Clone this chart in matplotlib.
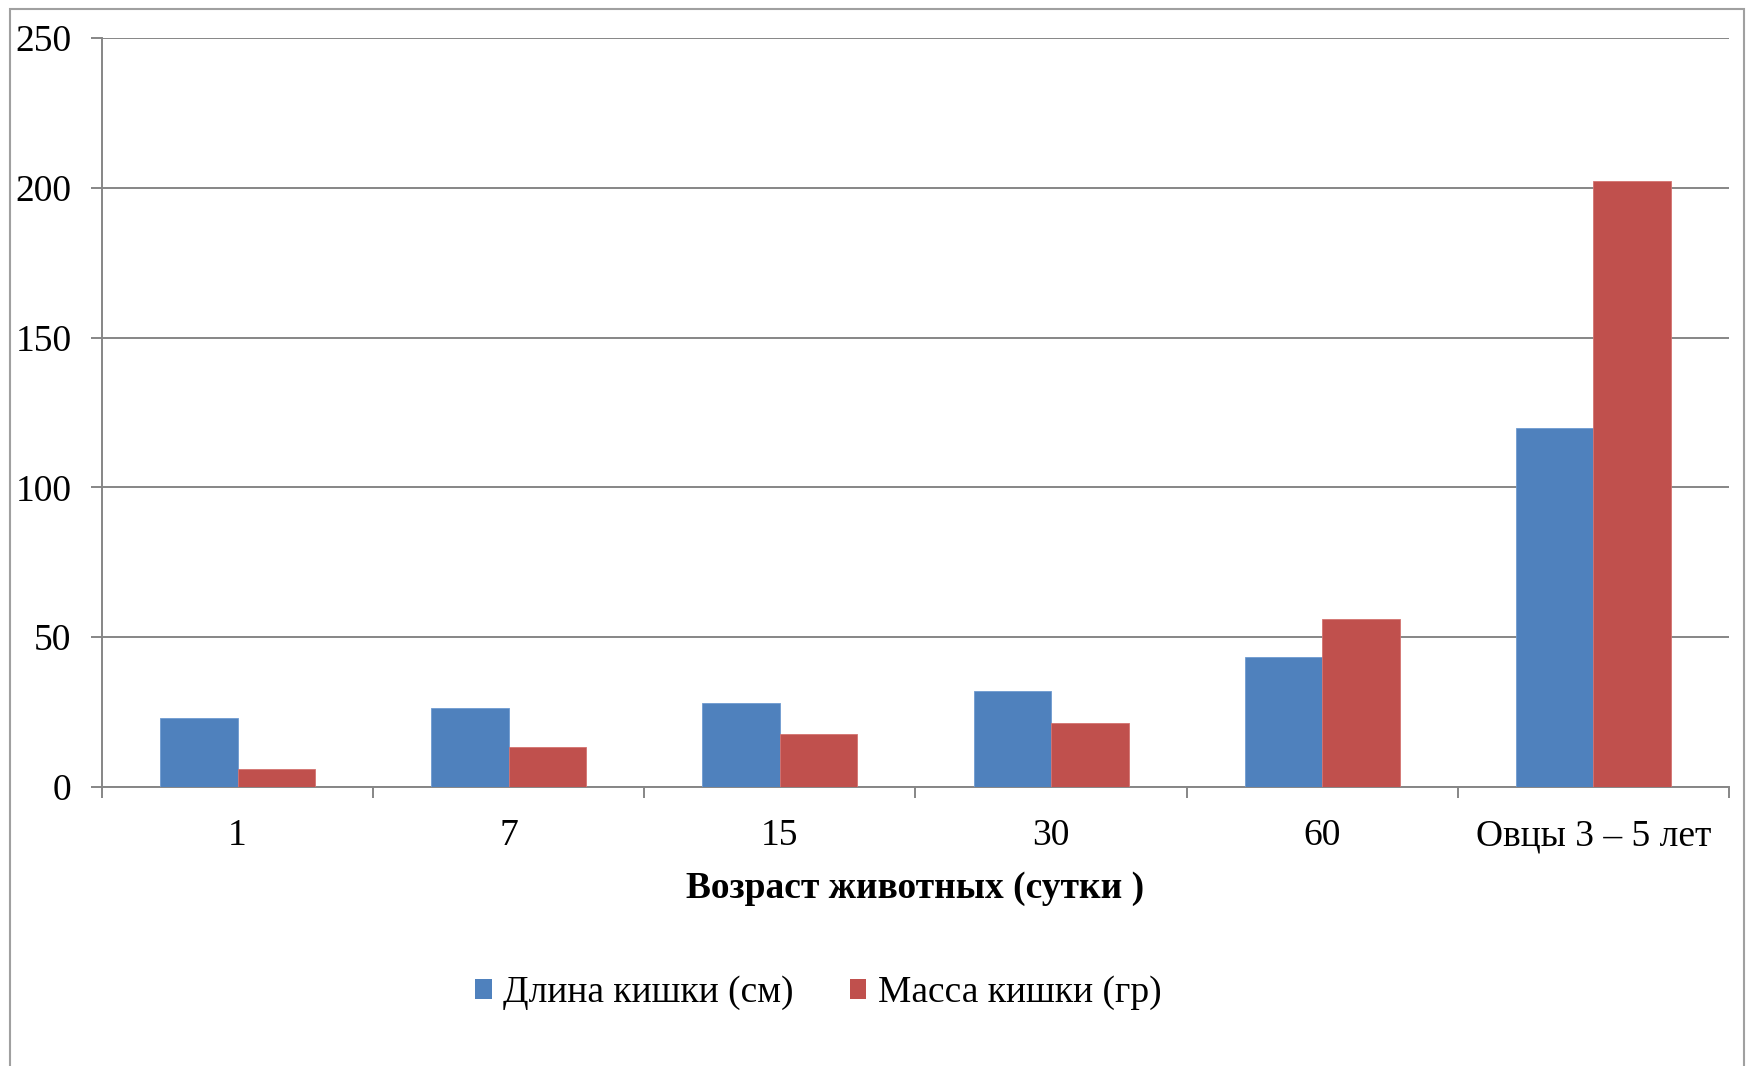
import matplotlib
matplotlib.use("Agg")
import matplotlib.pyplot as plt
import numpy as np
from matplotlib.patches import Rectangle, Patch

categories = ["1", "7", "15", "30", "60", "Овцы 3 – 5 лет"]
length_cm = [23.0, 26.4, 27.9, 31.9, 43.5, 119.7]
mass_gr = [6.0, 13.2, 17.8, 21.2, 56.0, 202.2]
series_names = ["Длина кишки (см)", "Масса кишки (гр)"]
yticks = [0, 50, 100, 150, 200, 250]
xlabel = "Возраст животных (сутки )"

plt.rcParams['font.family'] = ['Liberation Serif', 'DejaVu Serif']
W, H = 1746, 1066
fig = plt.figure(figsize=(W / 100, H / 100), dpi=100)

gray = "#868686"
blue = "#4F81BD"
red = "#C0504D"

ax = fig.add_axes([102 / W, 1 - 787 / H, (1729 - 102) / W, (787 - 38) / H])
x = np.arange(len(categories))
bw = 1 / 3.5
ax.bar(x - bw / 2, length_cm, width=bw, color=blue, edgecolor="#6F9AD0", linewidth=0.6, zorder=3)
ax.bar(x + bw / 2, mass_gr, width=bw, color=red, edgecolor="#D47370", linewidth=0.6, zorder=3)

ax.set_xlim(-0.5, len(categories) - 0.5)
ax.set_ylim(0, 250)
ax.set_yticks(yticks)
ax.set_yticklabels([str(v) for v in yticks], fontsize=27)
ax.yaxis.grid(True, color=gray, linewidth=1.4, zorder=0)
ax.set_axisbelow(True)

ax.set_xticks(np.arange(-0.5, len(categories)), labels=[""] * (len(categories) + 1))
ax.set_xticks(x, minor=True)
ax.set_xticklabels(categories, minor=True, fontsize=27)
ax.tick_params(axis='x', which='major', direction='out', length=8, width=1.4, color=gray)
ax.tick_params(axis='x', which='minor', length=0, pad=23)
ax.tick_params(axis='y', direction='out', length=8, width=1.4, color=gray, pad=14)

for s in ["top", "right"]:
    ax.spines[s].set_visible(False)
for s in ["left", "bottom"]:
    ax.spines[s].set_color(gray)
    ax.spines[s].set_linewidth(1.4)

fig.text(915 / W, 1 - 889 / H, xlabel, fontsize=27, fontweight='bold', ha='center', va='center')

handles = [Patch(facecolor=blue), Patch(facecolor=red)]
fig.legend(handles, series_names, loc='center', bbox_to_anchor=(818 / W, 1 - 993 / H),
           ncol=2, frameon=False, fontsize=27, handlelength=0.45, handleheight=0.45,
           handletextpad=0.3, columnspacing=1.5)

fig.patches.append(Rectangle((10 / W, -0.01), (1744 - 10) / W, 1 - 9 / H + 0.01,
                             transform=fig.transFigure, fill=False, edgecolor="#A0A0A0",
                             linewidth=1.5))

fig.savefig("out.png", dpi=100)
